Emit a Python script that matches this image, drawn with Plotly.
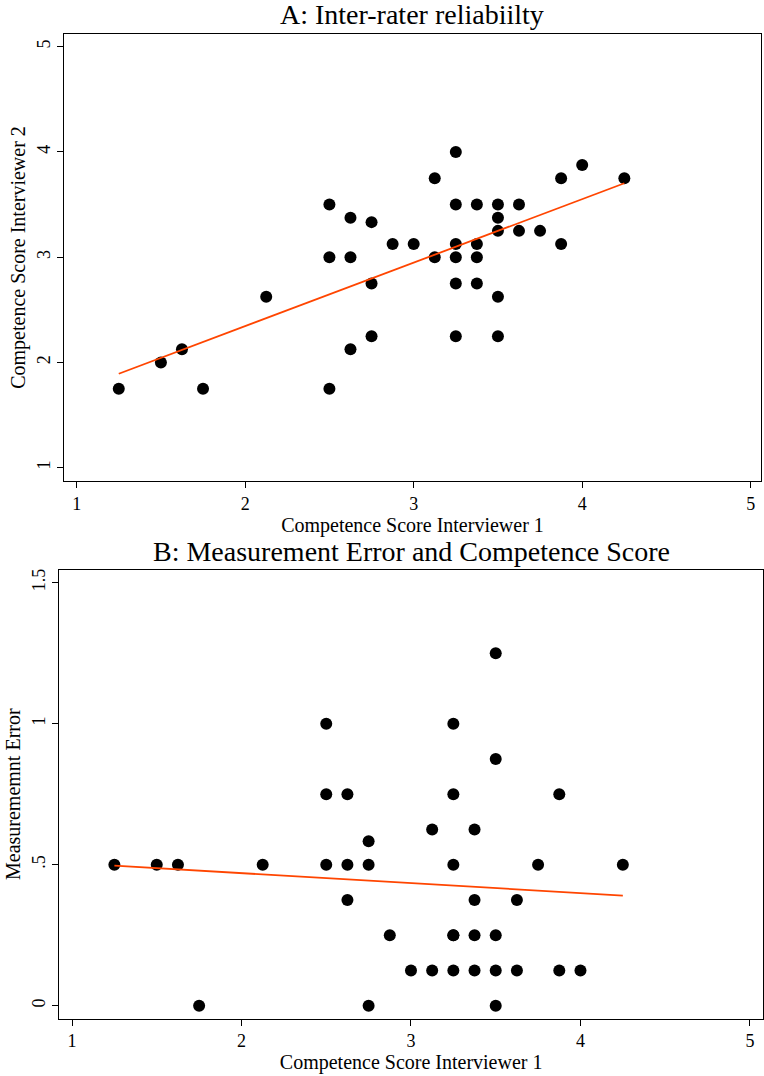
import numpy as np
import plotly.graph_objects as go

# Competence scores (interviewer 1, interviewer 2)
score_int1 = [1.25, 1.5, 1.625, 1.75, 2.125, 2.5, 2.5, 2.5, 2.625, 2.625, 2.625,
              2.75, 2.75, 2.75, 2.875, 3.0, 3.125, 3.125, 3.25, 3.25, 3.25, 3.25,
              3.25, 3.25, 3.375, 3.375, 3.375, 3.375, 3.5, 3.5, 3.5, 3.5, 3.5,
              3.625, 3.625, 3.75, 3.875, 3.875, 4.0, 4.25]
score_int2 = [1.75, 2.0, 2.125, 1.75, 2.625, 3.5, 3.0, 1.75, 3.375, 3.0, 2.125,
              3.333, 2.75, 2.25, 3.125, 3.125, 3.75, 3.0, 4.0, 3.5, 3.125, 3.0,
              2.75, 2.25, 3.5, 3.125, 3.0, 2.75, 3.5, 3.375, 3.25, 2.625, 2.25,
              3.5, 3.25, 3.25, 3.75, 3.125, 3.875, 3.75]
meas_error = [0.5, 0.5, 0.5, 0.0, 0.5, 1.0, 0.5, 0.75, 0.75, 0.375, 0.5,
              0.583, 0.0, 0.5, 0.25, 0.125, 0.625, 0.125, 0.75, 0.25, 0.125, 0.25,
              0.5, 1.0, 0.125, 0.25, 0.375, 0.625, 0.0, 0.125, 0.25, 0.875, 1.25,
              0.125, 0.375, 0.5, 0.125, 0.75, 0.125, 0.5]

title_a = "A: Inter-rater reliabiilty"
title_b = "B: Measurement Error and Competence Score"
xlab = "Competence Score Interviewer 1"
ylab_a = "Competence Score Interviewer 2"
ylab_b = "Measurememnt Error"
xticks = [1, 2, 3, 4, 5]
yticks_a = [1, 2, 3, 4, 5]
yticks_b = [0, 0.5, 1, 1.5]
yticklabels_b = ["0", ".5", "1", "1.5"]

FONT = "Liberation Serif, Times New Roman, serif"
LINE_COLOR = "#FF4500"

x1 = np.array(score_int1)
fa = np.polyfit(x1, np.array(score_int2), 1)
fb = np.polyfit(x1, np.array(meas_error), 1)
xfit = np.array([x1.min(), x1.max()])

fig = go.Figure()
fig.add_trace(go.Scatter(x=score_int1, y=score_int2, mode="markers",
                         marker=dict(color="black", size=12),
                         xaxis="x", yaxis="y", showlegend=False))
fig.add_trace(go.Scatter(x=xfit, y=np.polyval(fa, xfit), mode="lines",
                         line=dict(color=LINE_COLOR, width=1.8),
                         xaxis="x", yaxis="y", showlegend=False))
fig.add_trace(go.Scatter(x=score_int1, y=meas_error, mode="markers",
                         marker=dict(color="black", size=12),
                         xaxis="x2", yaxis="y2", showlegend=False))
fig.add_trace(go.Scatter(x=xfit, y=np.polyval(fb, xfit), mode="lines",
                         line=dict(color=LINE_COLOR, width=1.8),
                         xaxis="x2", yaxis="y2", showlegend=False))

W, H = 764, 1076
def px_x(p):
    return p / W
def px_y(p):
    return 1 - p / H

axis_common = dict(showline=True, linecolor="black", linewidth=1.3, mirror=True,
                   ticks="outside", ticklen=6, tickcolor="black", tickwidth=1,
                   showgrid=False, zeroline=False,
                   tickfont=dict(family=FONT, size=18, color="black"))

fig.update_layout(
    width=W, height=H,
    margin=dict(l=0, r=0, t=0, b=0),
    paper_bgcolor="white", plot_bgcolor="white",
    font=dict(family=FONT, color="black"),
    xaxis=dict(domain=[px_x(64), px_x(761)], range=[0.925, 5.061],
               tickvals=xticks, anchor="y",
               title=dict(text=xlab, font=dict(family=FONT, size=20), standoff=0),
               **axis_common),
    yaxis=dict(domain=[px_y(481), px_y(34)], range=[0.874, 5.12],
               tickvals=yticks_a, tickangle=-90, anchor="x",
               title=dict(text=ylab_a, font=dict(family=FONT, size=20), standoff=2),
               **axis_common),
    xaxis2=dict(domain=[px_x(59.3), px_x(763)], range=[0.925, 5.077],
                tickvals=xticks, anchor="y2",
                title=dict(text=xlab, font=dict(family=FONT, size=20), standoff=0),
                **axis_common),
    yaxis2=dict(domain=[px_y(1018.7), px_y(569.7)], range=[-0.046, 1.546],
                tickvals=yticks_b, ticktext=yticklabels_b, tickangle=-90, anchor="x2",
                title=dict(text=ylab_b, font=dict(family=FONT, size=20), standoff=2),
                **axis_common),
    annotations=[
        dict(text=title_a, xref="paper", yref="paper", x=px_x(412), y=px_y(15),
             xanchor="center", yanchor="middle", showarrow=False,
             font=dict(family=FONT, size=28, color="black")),
        dict(text=title_b, xref="paper", yref="paper", x=px_x(411), y=px_y(551),
             xanchor="center", yanchor="middle", showarrow=False,
             font=dict(family=FONT, size=28, color="black")),
    ],
)

fig.write_html("out.html")
